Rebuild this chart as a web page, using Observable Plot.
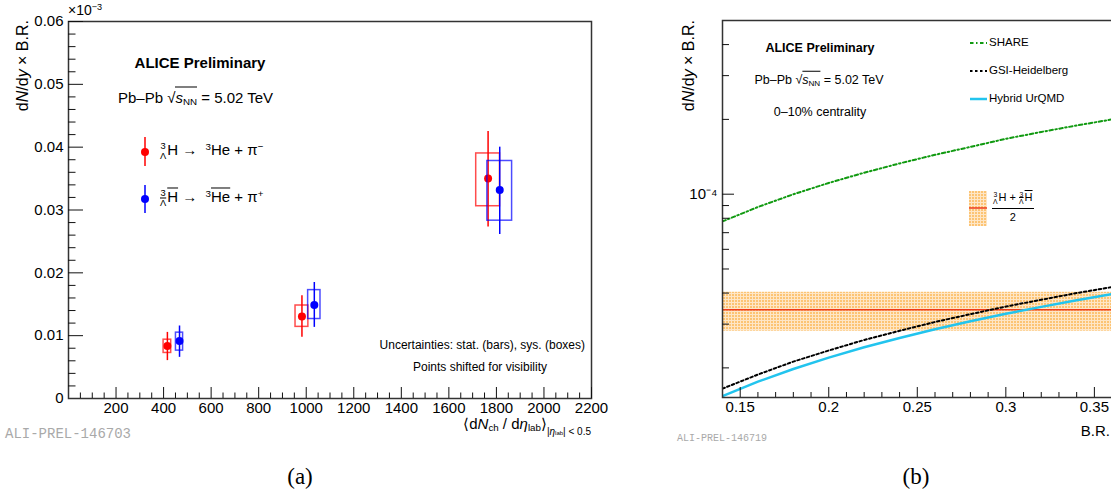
<!DOCTYPE html>
<html><head><meta charset="utf-8">
<script src="https://cdn.jsdelivr.net/npm/d3@7"></script>
<script src="https://cdn.jsdelivr.net/npm/@observablehq/plot@0.6"></script>
<style>
body{margin:0;width:1111px;height:492px;position:relative;overflow:hidden;background:#fff;font-family:"Liberation Sans",Arial,Helvetica,sans-serif;color:#000}
.zt{position:absolute;white-space:nowrap;line-height:1}
.zc{transform:translate(-50%,-50%)}
.zl{transform:translate(0,-50%)}
.zr{transform:translate(-100%,-50%)}
.zrot{transform-origin:0 0;transform:rotate(-90deg) translate(-100%,-50%)}
.zpre{display:inline-flex;flex-direction:column;font-size:0.62em;line-height:1;vertical-align:0.6em;text-align:center;margin-right:1px}
.zov{text-decoration:overline;text-decoration-thickness:1px}
.zsup{font-size:0.65em;vertical-align:0.6em;line-height:0}
.zsub{font-size:0.65em;vertical-align:-0.3em;line-height:0}
.zsq{border-top:1px solid #000;padding-top:1px}
.zmono{font-family:"Liberation Mono","DejaVu Sans Mono",monospace;color:#a9a9a9}
.zserif{font-family:"Liberation Serif","DejaVu Serif",serif}
</style></head>
<body>
<svg width="0" height="0" style="position:absolute"><defs>
<pattern id="hatch" width="3" height="3" patternUnits="userSpaceOnUse">
<rect width="3" height="3" fill="#fee6c6"/><rect width="2" height="2" fill="#fcc474"/></pattern></defs></svg>
<div id="panelA" style="position:absolute;left:0;top:0;width:620px"></div>
<div id="panelB" style="position:absolute;left:630px;top:0;width:527px"></div>

<!-- panel (a) texts -->
<div class="zt zrot" style="left:23px;top:20px;font-size:16px">d<i>N</i>/d<i>y</i> × B.R.</div>
<div class="zt zl" style="left:68px;top:10px;font-size:14px">×10<span class="zsup">−3</span></div>
<div class="zt zc" style="left:200px;top:62px;font-size:15px;font-weight:bold">ALICE Preliminary</div>
<div class="zt zl" style="left:118px;top:97px;font-size:15px">Pb–Pb √<span class="zsq"><i>s</i><span class="zsub">NN</span></span> = 5.02 TeV</div>
<svg style="position:absolute;left:137px;top:136px" width="16" height="32"><line x1="8" y1="1" x2="8" y2="30" stroke="#f00" stroke-width="1.5"/><circle cx="8" cy="16" r="4" fill="#f00"/></svg>
<svg style="position:absolute;left:137px;top:184px" width="16" height="30"><line x1="8" y1="1" x2="8" y2="29" stroke="#00f" stroke-width="1.5"/><circle cx="8" cy="15" r="4" fill="#00f"/></svg>
<div class="zt zl" style="left:160px;top:152px;font-size:15px"><span class="zpre"><span>3</span><span>Λ</span></span>H →&nbsp; <span class="zsup">3</span>He + π<span class="zsup">−</span></div>
<div class="zt zl" style="left:160px;top:199px;font-size:15px"><span class="zpre"><span>3</span><span class="zov">Λ</span></span><span class="zov">H</span> →&nbsp; <span class="zsup">3</span><span class="zov">He</span> + π<span class="zsup">+</span></div>
<div class="zt zr" style="left:585px;top:345px;font-size:12px">Uncertainties: stat. (bars), sys. (boxes)</div>
<div class="zt zc" style="left:480px;top:367px;font-size:12px">Points shifted for visibility</div>
<div class="zt zr" style="left:591px;top:426px;font-size:15px">⟨d<i>N</i><span class="zsub">ch</span> / d<i>η</i><span class="zsub">lab</span>⟩<span style="font-size:10px;vertical-align:-6px">|<i>η</i><span style="font-size:6px">lab</span>| &lt; 0.5</span></div>
<div class="zt zl zmono" style="left:5px;top:434px;font-size:14px">ALI-PREL-146703</div>
<div class="zt zc zserif" style="left:300px;top:476px;font-size:23px">(a)</div>

<!-- panel (b) texts -->
<div class="zt zrot" style="left:689px;top:20px;font-size:16px">d<i>N</i>/d<i>y</i> × B.R.</div>
<div class="zt zc" style="left:820px;top:48px;font-size:12.5px;font-weight:bold">ALICE Preliminary</div>
<div class="zt zc" style="left:819px;top:80px;font-size:12.5px">Pb–Pb √<span class="zsq"><i>s</i><span class="zsub">NN</span></span> = 5.02 TeV</div>
<div class="zt zc" style="left:820px;top:112px;font-size:12.5px">0–10% centrality</div>
<svg style="position:absolute;left:968px;top:36px" width="20" height="70">
<line x1="2" y1="7" x2="19" y2="7" stroke="#119a11" stroke-width="2" stroke-dasharray="3.5,2.5,1.5,2.5"/>
<line x1="2" y1="35" x2="19" y2="35" stroke="#000" stroke-width="2" stroke-dasharray="2.5,2.5"/>
<line x1="2" y1="63" x2="19" y2="63" stroke="#22c4ee" stroke-width="2.5"/></svg>
<div class="zt zl" style="left:989px;top:43px;font-size:11.5px">SHARE</div>
<div class="zt zl" style="left:989px;top:71px;font-size:11.5px">GSI-Heidelberg</div>
<div class="zt zl" style="left:989px;top:99px;font-size:11.5px">Hybrid UrQMD</div>
<svg style="position:absolute;left:969px;top:191px" width="18" height="35"><rect width="18" height="35" fill="url(#hatch)"/><line x1="0" y1="17" x2="18" y2="17" stroke="#ee3b1b" stroke-width="1.5"/></svg>
<div class="zt" style="left:992px;top:192px;font-size:11px;text-align:center">
<div style="border-bottom:1px solid #000;padding:0 1px 2px 1px"><span class="zpre"><span>3</span><span>Λ</span></span>H + <span class="zpre"><span>3</span><span class="zov">Λ</span></span><span class="zov">H</span></div>
<div style="padding-top:3px">2</div></div>
<div class="zt zr" style="left:1110px;top:430px;font-size:15px">B.R.</div>
<div class="zt zl zmono" style="left:677px;top:439px;font-size:10px">ALI-PREL-146719</div>
<div class="zt zc zserif" style="left:916px;top:476px;font-size:23px">(b)</div>

<script>
// ---------- Panel (a) data: dN/dy x B.R. (x10^-3) vs <dNch/deta> ----------
const matterMult   = [416, 982, 1765];
const matterY      = [0.00836, 0.01306, 0.0350];
const matterStatLo = [0.00603, 0.00973, 0.0273];
const matterStatHi = [0.01052, 0.01635, 0.0425];
const matterSysLo  = [0.00725, 0.0114, 0.0306];
const matterSysHi  = [0.00936, 0.0148, 0.0390];
const matterSysDx  = [16, 27, 50];

const antiMult   = [467, 1034, 1814];
const antiY      = [0.00915, 0.0149, 0.0332];
const antiStatLo = [0.00655, 0.01132, 0.0261];
const antiStatHi = [0.01154, 0.01846, 0.0400];
const antiSysLo  = [0.00762, 0.01265, 0.0283];
const antiSysHi  = [0.01048, 0.01725, 0.0378];
const antiSysDx  = [15, 26, 52];

const xTickLabelsA = [200,400,600,800,1000,1200,1400,1600,1800,2000,2200];
const yTickLabelsA = [0,0.01,0.02,0.03,0.04,0.05,0.06];

// ---------- Panel (b) data: dN/dy x B.R. vs B.R. ----------
const brValues = [0.14,0.16,0.18,0.20,0.22,0.24,0.26,0.28,0.30,0.32,0.34,0.36,0.38];
const shareVals = [7.77e-5,8.88e-5,9.99e-5,1.11e-4,1.22e-4,1.33e-4,1.44e-4,1.55e-4,1.67e-4,1.78e-4,1.89e-4,2.0e-4,2.11e-4];
const gsiVals   = [1.65e-5,1.88e-5,2.12e-5,2.35e-5,2.59e-5,2.82e-5,3.06e-5,3.29e-5,3.53e-5,3.76e-5,4.0e-5,4.23e-5,4.47e-5];
const urqmdVals = [1.54e-5,1.76e-5,1.98e-5,2.2e-5,2.42e-5,2.64e-5,2.86e-5,3.08e-5,3.3e-5,3.52e-5,3.74e-5,3.96e-5,4.18e-5];
const measuredAvg = [3.43e-5];
const measuredLo  = [2.81e-5];
const measuredHi  = [4.03e-5];
const xTickLabelsB = [0.15,0.2,0.25,0.3,0.35];
const yTickLabelsB = [1e-4];

const fontStack = "'Liberation Sans', Arial, sans-serif";

// ---------- panel (a) ----------
function rows(mult, y, sLo, sHi, yLo, yHi, dx){
  return mult.map((m,i)=>({m, y:y[i], lo:sLo[i], hi:sHi[i], ylo:yLo[i], yhi:yHi[i], dx:dx[i]}));
}
const matter = rows(matterMult, matterY, matterStatLo, matterStatHi, matterSysLo, matterSysHi, matterSysDx);
const anti = rows(antiMult, antiY, antiStatLo, antiStatHi, antiSysLo, antiSysHi, antiSysDx);

const dimA = {w:620, h:430, ml:68, mr:29, mt:21, mb:32};
const aPH = dimA.h - dimA.mt - dimA.mb, aPW = dimA.w - dimA.ml - dimA.mr;
const xDomA = [0, 2200], yDomA = [0, 0.06];
const xMinorA = d3.range(50, 2200, 50).filter(v => v % 200 !== 0);
const xMajorA = d3.range(200, 2201, 200);
const yMinorA = d3.range(1, 30).filter(i => i%5 !== 0).map(i => +(i*0.002).toFixed(3));
const yMajorA = d3.range(1, 7).map(i => +(i*0.01).toFixed(2));

// inward tick marks: pixel length converted to data units of the scale
const linLen = (dom, px, full) => dom[0] + (dom[1]-dom[0]) * px / full;
const logLen = (dom, px, full) => dom[0] * Math.pow(dom[1]/dom[0], px / full);
function tickMarksX(vals, span){ return Plot.ruleX(vals, {x:d=>d, y1:()=>span[0], y2:()=>span[1], stroke:"#111", strokeWidth:1}); }
function tickMarksY(vals, span){ return Plot.ruleY(vals, {y:d=>d, x1:()=>span[0], x2:()=>span[1], stroke:"#111", strokeWidth:1}); }

function series(data, color){
  return [
    Plot.rect(data, {x1:d=>d.m-d.dx, x2:d=>d.m+d.dx, y1:"ylo", y2:"yhi", fill:"none", stroke:color, strokeWidth:1.5, strokeOpacity:0.7}),
    Plot.ruleX(data, {x:"m", y1:"lo", y2:"hi", stroke:color, strokeWidth:1.5}),
    Plot.dot(data, {x:"m", y:"y", r:4, fill:color, stroke:"none"})
  ];
}

const chartA = Plot.plot({
  width:dimA.w, height:dimA.h, marginLeft:dimA.ml, marginRight:dimA.mr, marginTop:dimA.mt, marginBottom:dimA.mb,
  x:{domain:xDomA, label:null}, y:{domain:yDomA, label:null},
  style:{fontFamily:fontStack, fontSize:"15px", color:"#000", background:"transparent", overflow:"visible"},
  marks:[
    Plot.axisX(xTickLabelsA, {tickSize:0, tickPadding:4, fontSize:15, label:null, tickFormat:d=>String(d)}),
    Plot.axisY(yTickLabelsA, {tickSize:0, tickPadding:5, fontSize:15, label:null, tickFormat:d=> d===0 ? "0" : d.toFixed(2)}),
    ...series(matter, "#ff0000"),
    ...series(anti, "#0000ff"),
    Plot.frame({stroke:"#333", strokeWidth:1.5}),
    tickMarksX(xMinorA, [yDomA[0], linLen(yDomA, 5.5, aPH)]),
    tickMarksX(xMajorA, [yDomA[0], linLen(yDomA, 11, aPH)]),
    tickMarksY(yMinorA, [xDomA[0], linLen(xDomA, 7.5, aPW)]),
    tickMarksY(yMajorA, [xDomA[0], linLen(xDomA, 15, aPW)])
  ]
});
chartA.style.maxWidth = "none";
document.getElementById("panelA").appendChild(chartA);

// ---------- panel (b) ----------
const dimB = {w:527, h:430, ml:92, mr:10, mt:20, mb:33};
const bPH = dimB.h - dimB.mt - dimB.mb, bPW = dimB.w - dimB.ml - dimB.mr;
const xDomB = [0.14, 0.38], yDomB = [1.52e-5, 5e-4];
const xMinorB = d3.range(15, 38).filter(i => i%5 !== 0).map(i=>i/100);
const yMinorB = [2e-5,3e-5,4e-5,5e-5,6e-5,7e-5,8e-5,9e-5,2e-4,3e-4,4e-4];
const curves = brValues.flatMap((br,i)=>[
  {br, v:shareVals[i], model:"SHARE"},
  {br, v:gsiVals[i], model:"GSI"},
  {br, v:urqmdVals[i], model:"UrQMD"}
]);
const band = measuredAvg.map((a,i)=>({a, lo:measuredLo[i], hi:measuredHi[i]}));

const chartB = Plot.plot({
  width:dimB.w, height:dimB.h, marginLeft:dimB.ml, marginRight:dimB.mr, marginTop:dimB.mt, marginBottom:dimB.mb,
  x:{domain:xDomB, label:null}, y:{type:"log", domain:yDomB, label:null},
  style:{fontFamily:fontStack, fontSize:"15px", color:"#000", background:"transparent", overflow:"visible"},
  marks:[
    Plot.rect(band, {x1:()=>xDomB[0], x2:()=>xDomB[1], y1:"lo", y2:"hi", fill:"url(#hatch)"}),
    Plot.ruleY(band, {y:"a", stroke:"#ee3b1b", strokeWidth:1.5}),
    Plot.line(curves.filter(d=>d.model==="SHARE"), {x:"br", y:"v", stroke:"#119a11", strokeWidth:2, strokeDasharray:"3.5,2.5,1.5,2.5", clip:true}),
    Plot.line(curves.filter(d=>d.model==="GSI"), {x:"br", y:"v", stroke:"#000", strokeWidth:2, strokeDasharray:"2.5,2.5", clip:true}),
    Plot.line(curves.filter(d=>d.model==="UrQMD"), {x:"br", y:"v", stroke:"#22c4ee", strokeWidth:2.5, clip:true}),
    Plot.axisX(xTickLabelsB, {tickSize:0, tickPadding:4, fontSize:15, label:null, tickFormat:d=>String(d)}),
    Plot.axisY(yTickLabelsB, {tickSize:0, tickPadding:5, fontSize:15, label:null, tickFormat:()=>"10⁻⁴"}),
    Plot.frame({stroke:"#333", strokeWidth:1.5}),
    tickMarksX(xMinorB, [yDomB[0], logLen(yDomB, 5, bPH)]),
    tickMarksX(xTickLabelsB, [yDomB[0], logLen(yDomB, 10, bPH)]),
    tickMarksY(yMinorB, [xDomB[0], linLen(xDomB, 7, bPW)]),
    tickMarksY(yTickLabelsB, [xDomB[0], linLen(xDomB, 12, bPW)])
  ]
});
chartB.style.maxWidth = "none";
document.getElementById("panelB").appendChild(chartB);
</script>
</body></html>
